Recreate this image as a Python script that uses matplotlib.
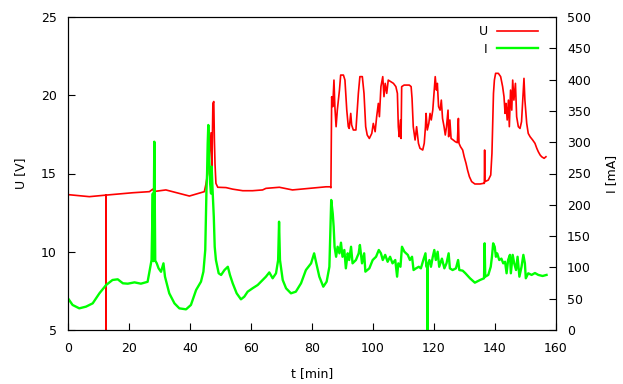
import matplotlib
matplotlib.use("Agg")
import matplotlib.pyplot as plt

# Tension U [V] (eje izquierdo)
t_u = [0, 7.0, 12.5, 12.5, 12.5, 21.2, 26.7, 27.8, 28.2, 32.1, 39.8, 44.7, 45.2, 45.8, 46.1, 46.3,
       46.9, 47.2, 47.5, 47.8, 48.0, 48.2, 48.5, 49.1, 51.8, 54.0, 57.3, 60.5, 63.8, 64.9, 69.3,
       73.6, 79.1, 84.6, 86.0,
       86.2, 86.45, 86.8, 87.2, 87.5, 87.9, 88.3, 89.0, 89.4, 90.3, 90.8, 91.4, 91.9, 92.2, 92.7,
       93.0, 93.55, 94.4, 95.2, 95.7, 96.5, 97.05, 97.6, 98.1, 98.8, 99.6, 100.1, 100.7, 101.2,
       101.75, 102.1, 102.6, 103.2, 103.6, 104.0, 104.5, 105.0, 105.8, 106.7, 107.5, 108.0, 108.3,
       108.6, 109.0, 109.2, 109.4, 110.2, 111.9, 112.5, 112.8, 113.2, 113.8, 114.3, 114.9, 115.4,
       116.3, 116.8, 117.2, 117.4, 117.8, 118.3, 118.7, 119.1, 119.6, 120.0, 120.4, 120.8, 121.1,
       121.5, 122.0, 122.4, 122.8, 123.3, 123.7, 124.1, 124.6, 124.8, 125.2, 125.6, 126.3, 127.0,
       127.65, 128.0, 128.2, 128.7, 129.4, 129.9, 130.5, 131.0, 131.6, 132.35, 133.4, 135.1,
       136.2, 136.5, 136.6, 136.7, 137.8, 138.6, 139.0, 139.5, 139.8, 140.2, 141.1, 141.85, 142.5,
       142.95, 143.3, 143.6, 144.0, 144.4, 144.7, 145.1, 145.5, 145.8, 146.2, 146.7, 147.1, 147.65,
       148.2, 148.7, 149.2, 149.5, 149.8, 150.4, 150.9, 151.5, 152.35, 153.1, 153.7, 154.2, 154.8,
       155.3, 156.1, 156.7]
u = [13.65, 13.52, 13.62, 0, 13.62, 13.77, 13.84, 14.0, 13.85, 13.95, 13.56, 13.84, 14.3, 15.0,
     17.78, 15.86, 17.6, 15.4, 19.49, 19.6, 17.14, 15.6, 14.37, 14.12, 14.1, 14.0, 13.9, 13.9, 13.95,
     14.05, 14.12, 13.95, 14.05, 14.15, 14.15,
     14.09, 19.9, 19.27, 20.97, 19.27, 17.99, 19.05, 20.33, 21.29, 21.29, 20.97, 19.05, 17.99,
     17.88, 18.84, 18.1, 17.78, 17.78, 20.12, 21.19, 21.19, 20.12, 17.99, 17.46, 17.24, 17.56,
     18.2, 17.67, 18.63, 19.48, 18.63, 20.55, 21.19, 19.91, 20.76, 20.12, 20.97, 20.87, 20.76,
     20.55, 20.12, 17.99, 17.35, 18.42, 17.24, 20.55, 20.65, 20.65, 20.55, 19.8, 17.99, 17.14,
     17.99, 16.93, 16.61, 16.5, 16.93, 17.99, 18.84, 17.78, 18.2, 18.84, 18.42, 19.05, 20.12,
     21.19, 20.33, 20.76, 19.27, 19.05, 19.69, 18.52, 17.99, 17.46, 17.99, 19.05, 17.35, 18.42,
     17.24, 17.14, 17.03, 16.97, 18.52, 16.93, 16.71, 16.5, 16.07, 15.65, 15.22, 14.8, 14.48,
     14.33, 14.33, 14.37, 14.37, 16.5, 14.48, 14.58, 14.9, 16.29, 20.12, 20.97, 21.4, 21.4, 21.19,
     20.55, 19.91, 18.84, 19.48, 18.42, 19.69, 17.99, 20.33, 19.05, 20.97, 19.69, 20.76, 18.63,
     17.99, 17.88, 18.31, 20.12, 21.08, 19.69, 18.2, 17.56, 17.35, 17.14, 16.93, 16.61, 16.39,
     16.18, 16.07, 15.97, 16.07]

# Corriente I [mA] (eje derecho)
t_i = [0, 1.5, 3.7, 5.9, 8.1, 10.3, 12.5, 14.6, 16.3, 18.0, 19.6, 21.8, 23.9, 26.1, 26.7, 27.4,
       27.8, 28.0, 28.3, 28.6, 29.1, 29.7, 30.5, 31.3, 31.8, 33.2, 34.9, 36.5, 38.7, 40.3, 42.0,
       43.6, 44.4, 45.0, 45.4, 45.6, 45.8, 46.0, 46.3, 46.6, 46.9, 47.1, 47.4, 47.8, 48.1, 48.5,
       49.4, 50.2, 51.3, 52.4, 53.1, 54.0, 55.3, 56.7, 57.8, 58.9, 60.5, 62.2, 63.8, 64.9, 66.0,
       67.1, 68.2, 68.9, 69.2, 69.5, 70.4, 71.5, 73.1, 74.7, 76.4, 78.0, 79.7, 80.7, 81.3, 82.4,
       83.7, 84.8, 85.7, 86.0, 86.3, 86.8, 87.1, 87.4, 87.9, 88.4, 89.0, 89.5, 90.0, 90.6, 91.1,
       91.7, 92.2, 92.8, 93.3, 94.4, 95.3, 95.7, 96.4, 97.1, 97.5, 98.8, 99.9, 101.0, 101.9, 102.6,
       103.2, 104.0, 104.8, 105.6, 106.4, 107.3, 107.9, 108.3, 109.0, 109.5, 110.3, 111.4, 112.1,
       112.8, 113.3, 114.1, 115.0, 115.7, 116.5, 117.2, 117.5, 117.9, 117.9, 117.9, 118.5, 119.0,
       119.6, 120.1, 120.6, 121.2, 121.7, 122.6, 123.4, 124.1, 124.8, 125.2, 126.1, 127.2, 127.9,
       128.3, 129.4, 130.3, 131.8, 133.4, 135.1, 136.4, 136.6, 136.8, 137.8, 138.6, 139.0, 139.4,
       139.9, 140.3, 140.7, 141.4, 142.1, 142.7, 143.3, 143.8, 144.3, 144.9, 145.2, 145.8, 146.3,
       146.9, 147.4, 148.0, 148.7, 149.3, 149.8, 150.1, 150.9, 152.0, 153.1, 154.2, 155.6, 156.9]
i = [50.6, 40, 34.6, 37.3, 42.6, 58.6, 71.9, 79.9, 81, 74.6, 74, 76.1, 74, 77, 93, 111.8,
     218, 110, 300.8, 111, 106.5, 98.5, 93, 106.5, 85.2, 58.6, 42.6, 34.6, 33, 40, 63.9,
     77.2, 93.2, 127.8, 223.6, 250, 298, 327.5, 277, 234, 218, 261, 223.6, 181, 133, 111.8,
     90.6, 87.9, 95.8, 101, 87.9, 74.6, 58.6, 49, 53.2, 61.2, 66.6, 71.9, 79.9, 85.2, 92,
     82.6, 90.6, 111.8, 173, 111.8, 79.9, 66.6, 58.6, 61.2, 74.6, 95.8, 106.5, 122.5, 109, 85.2,
     69.2, 77.2, 101, 154.5, 207.7, 186, 165, 133, 117, 133, 122.5, 139.5, 117, 127.8, 98.5,
     122.5, 111.8, 133, 106.5, 111.8, 122.5, 135.8, 106.5, 122.5, 93.2, 98.5, 111.8, 117, 127.8, 122.5,
     111.8, 120, 109, 117, 106.5, 111.8, 85.2, 106.5, 101, 133, 125, 120, 111.8,
     117, 95.8, 98.5, 101, 98.5, 111.8, 122.5, 101, 103, -10, 103, 111.8, 101,
     117, 127.8, 111.8, 125, 101, 114, 98.5, 106.5, 122.5, 98.5, 95.8, 98.5, 111.8,
     95.8, 94.8, 90.6, 82.6, 75.6, 79.9, 82.6, 138.5, 85.2, 88, 101, 117, 138.5,
     133, 117, 122.5, 111.8, 114, 106.5, 109, 90.6, 111.8, 120, 90.6, 120, 106.5,
     95.8, 117, 85.2, 101, 120, 106.5, 82.6, 90.6, 88, 91, 88, 86.3, 88]

x_ticks = [0, 20, 40, 60, 80, 100, 120, 140, 160]
u_ticks = [5, 10, 15, 20, 25]
i_ticks = [0, 50, 100, 150, 200, 250, 300, 350, 400, 450, 500]

plt.rcParams['font.family'] = ['DejaVu Sans']
plt.rcParams['font.size'] = 9

fig = plt.figure(figsize=(6.23, 3.84), dpi=100)
ax = fig.add_axes([68/623, 54/384, 488/623, 313/384])
ax2 = ax.twinx()

#Curvas de tension y corriente
l1, = ax.plot(t_u, u, color='#ff0000', lw=1.2, label='U')
l2, = ax2.plot(t_i, i, color='#00ff00', lw=1.7, label='I')

ax.set_xlim(0, 160)
ax.set_ylim(5, 25)
ax2.set_ylim(0, 500)
ax.set_xticks(x_ticks)
ax.set_yticks(u_ticks)
ax2.set_yticks(i_ticks)

ax.tick_params(direction='in', length=5, width=0.8, top=False, right=False, pad=8)
ax.tick_params(axis='x', pad=9)
ax2.tick_params(direction='in', length=5, width=0.8, left=False, pad=8)

ax.set_xlabel('t [min]', labelpad=8)
ax.set_ylabel('U [V]', labelpad=10)
ax2.set_ylabel('I [mA]', labelpad=10)

for a in (ax, ax2):
    for s in a.spines.values():
        s.set_linewidth(0.8)

#Leyenda arriba a la derecha, texto antes de la linea
ax2.legend([l1, l2], ['U', 'I'], loc='upper right', frameon=False, markerfirst=False,
           handlelength=3.3, handletextpad=0.7, labelspacing=0.35, borderaxespad=0,
           bbox_to_anchor=(0.973, 0.99))

plt.savefig('out.png', dpi=100)
